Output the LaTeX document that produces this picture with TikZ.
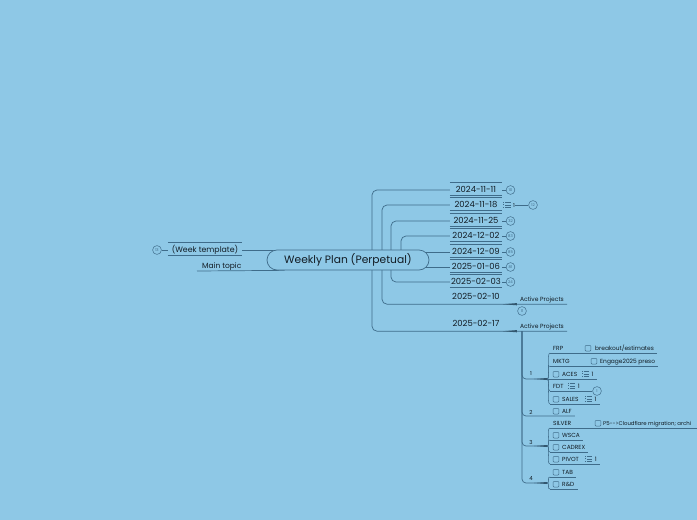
\documentclass[tikz,border=0pt]{standalone}
\usepackage{fontspec}
\setmainfont{Poppins}
\usetikzlibrary{calc}
\definecolor{bgc}{HTML}{8EC8E6}
\definecolor{ln}{HTML}{3F6C8A}
\definecolor{tx}{HTML}{121C24}
\pgfdeclarelayer{back}
\pgfdeclarelayer{links}
\pgfsetlayers{back,links,main}
\newcommand\lsticon{{\color{ln}\setlength{\unitlength}{1pt}\begin{picture}(7.4,4.6)\multiput(0,-0.2)(0,2.2){3}{\rule{0.9pt}{0.9pt}}\multiput(1.9,0.0)(0,2.2){3}{\rule{5.4pt}{0.5pt}}\end{picture}}}
\begin{document}
\begin{tikzpicture}[x=1pt,y=-1pt]
\tikzset{
 conn/.style={draw=ln, line width=0.7pt, rounded corners=5pt},
 thinl/.style={draw=ln, line width=0.55pt},
 central/.style={draw=ln, line width=0.7pt, fill=bgc, rounded corners=10pt, minimum width=162pt, minimum height=20pt, inner sep=0pt, font=\fontsize{10.7}{12}\selectfont, text=tx},
 datet/.style={font=\fontsize{8.4}{9}\selectfont, text=tx, minimum width=52pt, minimum height=12pt, inner sep=0pt, text height=5.9pt, text depth=0pt},
 badge/.style={circle, draw=ln, line width=0.5pt, minimum size=8.8pt, inner sep=0pt, font=\fontsize{3.8}{4}\selectfont, text=ln},
 small/.style={font=\fontsize{6}{7}\selectfont, text=tx, inner sep=0pt, text height=4.2pt, text depth=0pt},
 glbl/.style={font=\fontsize{5.5}{6}\selectfont, text=tx, inner sep=0pt},
 lbl/.style={font=\fontsize{5.5}{6}\selectfont, text=tx, inner sep=0pt},
 leaf/.style={font=\fontsize{5.9}{6.5}\selectfont, text=tx, inner xsep=3pt, inner ysep=1.6pt, text height=4.1pt, text depth=1pt, anchor=south west},
 cbox/.style={draw=ln, line width=0.45pt, rounded corners=1pt, minimum size=5.8pt, inner sep=0pt},
}
\begin{pgfonlayer}{back}
\fill[bgc] (0,0) rectangle (697,520);
\end{pgfonlayer}
\useasboundingbox (0,0) rectangle (697,520);

% central and left
\node[central] (wp) at (348,260) {Weekly Plan (Perpetual)};
\node[datet, font=\fontsize{7.8}{9}\selectfont, minimum width=74pt] (wt) at (205,250) {(Week template)};
\node[badge] (b13) at (157,250) {13};
\node[font=\fontsize{7.5}{8}\selectfont, text=tx, anchor=south west, inner xsep=5pt, inner ysep=2.3pt, text height=5.3pt, text depth=0pt] (mt) at (197,271) {Main topic};

% dates
\node[datet] (d1) at (476,190) {2024-11-11};
\node[datet] (d2) at (476,205) {2024-11-18};
\node[datet] (d3) at (476,221) {2024-11-25};
\node[datet] (d4) at (476,236) {2024-12-02};
\node[datet] (d5) at (476,252) {2024-12-09};
\node[datet] (d6) at (476,267) {2025-01-06};
\node[datet] (d7) at (476,282) {2025-02-03};
\node[datet, minimum height=14pt] (d8) at (476,297) {2025-02-10};
\node[datet, minimum height=14pt] (d9) at (476,324) {2025-02-17};

\node[badge] (b1) at (510.5,190) {10};
\node[lbl, anchor=west] (d2n) at (503,205) {\lsticon\hspace{2.5pt}1};
\node[badge] (b2) at (533,205) {12};
\node[badge] (b3) at (510.5,221) {32};
\node[badge] (b4) at (510.5,236) {83};
\node[badge] (b5) at (510.5,252) {85};
\node[badge] (b6) at (510.5,267) {81};
\node[badge] (b7) at (510.5,282) {24};

\node[small, minimum width=50pt, minimum height=10pt] (ap1) at (542,299) {Active Projects};
\node[badge] (b11) at (522,311) {11};
\node[small, minimum width=50pt, minimum height=10pt] (ap2) at (542,326) {Active Projects};

% groups
\coordinate (vt) at (522,331);
\node[glbl] (g1) at (531,374) {1};
\node[glbl] (g2) at (531,412) {2};
\node[glbl] (g3) at (531,442) {3};
\node[glbl] (g4) at (531,479) {4};
\coordinate (h1) at (547,379);
\coordinate (h3) at (547,446);
\coordinate (h4) at (547,483);

% leaves
\node[leaf] (frp) at (550,353) {FRP};
\node[leaf] (brk) at (582,353) {\hspace{10pt}breakout/estimates};
\node[cbox] (cbbrk) at (588,348.2) {};
\node[leaf] (mktg) at (550,366) {MKTG};
\node[leaf] (eng) at (588,366) {\hspace{9pt}Engage2025 preso};
\node[cbox] (cbeng) at (594,361.2) {};
\node[leaf] (aces) at (550,379) {\hspace{9pt}ACES\hspace{4.5pt}\lsticon\hspace{2.5pt}1};
\node[cbox] (cbaces) at (556,374.2) {};
\node[leaf] (fdt) at (550,391) {FDT\hspace{4.5pt}\lsticon\hspace{2.5pt}1};
\node[badge] (bfdt) at (597,391) {1};
\node[leaf] (sales) at (550,404) {\hspace{9pt}SALES\hspace{6pt}\lsticon\hspace{2.5pt}1};
\node[cbox] (cbsales) at (556,399.2) {};
\node[leaf] (alf) at (550,416) {\hspace{9pt}ALF};
\node[cbox] (cbalf) at (556,411.2) {};
\node[leaf] (silver) at (550,428) {SILVER};
\node[leaf, font=\fontsize{5.4}{6}\selectfont, inner xsep=1.5pt] (p5) at (592,428) {\hspace{9.5pt}P5-{}-{}>Cloudflare migration; archi};
\node[cbox] (cbp5) at (598,423.2) {};
\node[leaf] (wsca) at (550,440) {\hspace{9pt}WSCA};
\node[cbox] (cbwsca) at (556,435.2) {};
\node[leaf] (cadrex) at (550,452) {\hspace{9pt}CADREX};
\node[cbox] (cbcad) at (556,447.2) {};
\node[leaf] (pivot) at (550,464) {\hspace{9pt}PIVOT\hspace{6pt}\lsticon\hspace{2.5pt}1};
\node[cbox] (cbpiv) at (556,459.2) {};
\node[leaf] (tab) at (550,477) {\hspace{9pt}TAB};
\node[cbox] (cbtab) at (556,472.2) {};
\node[leaf] (rnd) at (550,489) {\hspace{9pt}R\&D};
\node[cbox] (cbrnd) at (556,484.2) {};

\begin{pgfonlayer}{links}
\coordinate (v1) at (372,0);
\coordinate (v2) at (382,0);
\coordinate (v3) at (391,0);
\coordinate (v4) at (401,0);
% left side
\draw[thinl] (b13.east) -- (wt.west);
\draw[conn] (wt.east) -- (wt.east -| wp.center);
\draw[conn] (mt.south west) -- ($(wp.south west)+(18,0)$);
\foreach \n in {wt,d1,d2,d3,d4,d5,d6,d7}{
  \draw[thinl] ($(\n.west)+(0,-7.5)$) -- ($(\n.east)+(0,-7.5)$);
  \draw[thinl] ($(\n.west)+(0,5.5)$) -- ($(\n.east)+(0,5.5)$);
}
% date connectors
\draw[conn] (v1 |- wp.center) |- (d1.west);
\draw[conn] (v2 |- wp.center) |- (d2.west);
\draw[conn] (v3 |- wp.center) |- (d3.west);
\draw[conn] (v4 |- wp.center) |- (d4.west);
\draw[conn] (v4 |- d5.west) -- (d5.west);
\draw[conn] (v4 |- d6.west) -- (d6.west);
\draw[conn] (v3 |- wp.center) |- (d7.west);
\draw[conn] (v2 |- wp.center) |- (d8.south west) -- (ap1.south west) -- (ap1.south east);
\draw[conn] (v1 |- wp.center) |- (d9.south west) -- (ap2.south west) -- (ap2.south east);
\fill[ln!80!black] ($(ap1.south west)+(-14,0)$) -- ($(ap1.south west)+(0,-1.1)$) -- ($(ap1.south west)+(0,1.1)$) -- cycle;
\fill[ln!80!black] ($(ap2.south west)+(-14,0)$) -- ($(ap2.south west)+(0,-1.1)$) -- ($(ap2.south west)+(0,1.1)$) -- cycle;
% badges
\draw[thinl] (d1.east) -- (b1.west);
\draw[thinl] (d2n.east) -- (b2.west);
\draw[thinl] (d3.east) -- (b3.west);
\draw[thinl] (d4.east) -- (b4.west);
\draw[thinl] (d5.east) -- (b5.west);
\draw[thinl] (d6.east) -- (b6.west);
\draw[thinl] (d7.east) -- (b7.west);
% groups
\draw[conn, rounded corners=4pt] (vt) |- (h1);
\draw[conn, rounded corners=4pt] (vt) |- (alf.south west) -- (alf.south east);
\draw[conn, rounded corners=4pt] (vt) |- (h3);
\draw[conn, rounded corners=4pt] (vt) |- (h4);
\foreach \h in {h1,h3,h4}{
  \fill[ln!80!black] ($(\h)+(-13,0)$) -- ($(\h)+(0,-1)$) -- ($(\h)+(0,1)$) -- cycle;
}
% leaves group 1
\draw[thinl] (h1) .. controls +(4,0) and +(-4,0) .. (frp.south west);
\draw[thinl] (h1) .. controls +(4,0) and +(-4,0) .. (mktg.south west);
\draw[thinl] (h1) -- (aces.south west);
\draw[thinl] (h1) .. controls +(4,0) and +(-4,0) .. (fdt.south west);
\draw[thinl] (h1) .. controls +(4,0) and +(-4,0) .. (sales.south west);
\draw[thinl] (frp.south west) -- (brk.south east);
\draw[thinl] (mktg.south west) -- (eng.south east);
\draw[thinl] (aces.south west) -- (aces.south east);
\draw[thinl] (fdt.south west) -- (bfdt.west);
\draw[thinl] (sales.south west) -- (sales.south east);
% group 3
\draw[thinl] (h3) .. controls +(4,0) and +(-4,0) .. (silver.south west);
\draw[thinl] (h3) .. controls +(4,0) and +(-4,0) .. (wsca.south west);
\draw[thinl] (h3) .. controls +(4,0) and +(-4,0) .. (cadrex.south west);
\draw[thinl] (h3) .. controls +(4,0) and +(-4,0) .. (pivot.south west);
\draw[thinl] (silver.south west) -- (697,428);
\draw[thinl] (wsca.south west) -- (wsca.south east);
\draw[thinl] (cadrex.south west) -- (cadrex.south east);
\draw[thinl] (pivot.south west) -- (pivot.south east);
% group 4
\draw[thinl] (h4) .. controls +(4,0) and +(-4,0) .. (tab.south west);
\draw[thinl] (h4) .. controls +(4,0) and +(-4,0) .. (rnd.south west);
\draw[thinl] (tab.south west) -- (tab.south east);
\draw[thinl] (rnd.south west) -- (rnd.south east);
\end{pgfonlayer}
\end{tikzpicture}
\end{document}
